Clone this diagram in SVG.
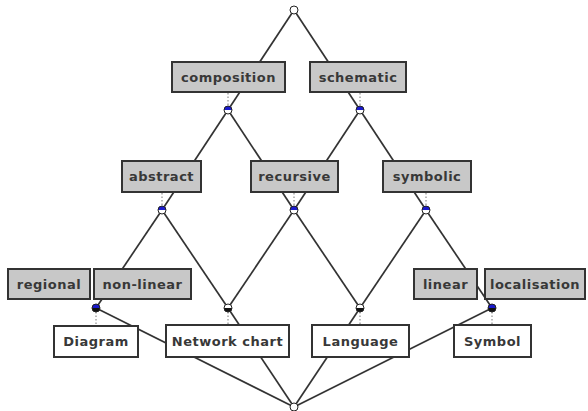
<svg xmlns="http://www.w3.org/2000/svg" width="588" height="411" viewBox="0 0 588 411">
<style>
.bg{fill:#ffffff}
.edge{stroke:#333;stroke-width:1.7;fill:none}
.tick{stroke:#777;stroke-width:1;stroke-dasharray:1.5 2;fill:none}
.att rect{fill:#c8c8c8;stroke:#333;stroke-width:2}
.obj rect{fill:#ffffff;stroke:#333;stroke-width:2}
text{font-family:"DejaVu Sans","Liberation Sans",sans-serif;font-weight:bold;font-size:13px;letter-spacing:0.5px;fill:#383838;text-anchor:middle}
.ring{fill:none;stroke:#222;stroke-width:1}
</style>
<defs>
<g id="plain"><circle r="4" fill="#fff"/><circle r="4" class="ring"/></g>
<g id="attrNode"><circle r="4" fill="#fff"/><path d="M-4,0 A4,4 0 0 1 4,0 Z" fill="#1a1acc"/><circle r="4" class="ring"/></g>
<g id="objNode"><circle r="4" fill="#fff"/><path d="M-4,0 A4,4 0 0 0 4,0 Z" fill="#111"/><circle r="4" class="ring"/></g>
<g id="bothNode"><path d="M-4,0 A4,4 0 0 1 4,0 Z" fill="#1a1acc"/><path d="M-4,0 A4,4 0 0 0 4,0 Z" fill="#111"/><circle r="4" class="ring"/></g>
</defs>
<rect class="bg" x="0" y="0" width="588" height="411"/>
<g id="connectors">
<line class="edge" x1="294" y1="10" x2="228" y2="110"/>
<line class="edge" x1="294" y1="10" x2="360" y2="110"/>
<line class="edge" x1="228" y1="110" x2="162" y2="210"/>
<line class="edge" x1="228" y1="110" x2="294" y2="210"/>
<line class="edge" x1="360" y1="110" x2="294" y2="210"/>
<line class="edge" x1="360" y1="110" x2="426" y2="210"/>
<line class="edge" x1="162" y1="210" x2="96" y2="308"/>
<line class="edge" x1="162" y1="210" x2="228" y2="308"/>
<line class="edge" x1="294" y1="210" x2="228" y2="308"/>
<line class="edge" x1="294" y1="210" x2="360" y2="308"/>
<line class="edge" x1="426" y1="210" x2="360" y2="308"/>
<line class="edge" x1="426" y1="210" x2="492" y2="308"/>
<line class="edge" x1="96" y1="308" x2="294" y2="407"/>
<line class="edge" x1="228" y1="308" x2="294" y2="407"/>
<line class="edge" x1="360" y1="308" x2="294" y2="407"/>
<line class="edge" x1="492" y1="308" x2="294" y2="407"/>
<line class="tick" x1="228" y1="93" x2="228" y2="106"/>
<line class="tick" x1="360" y1="93" x2="360" y2="106"/>
<line class="tick" x1="162" y1="193" x2="162" y2="206"/>
<line class="tick" x1="294" y1="193" x2="294" y2="206"/>
<line class="tick" x1="426" y1="193" x2="426" y2="206"/>
<line class="tick" x1="96" y1="312" x2="96" y2="325"/>
<line class="tick" x1="228" y1="312" x2="228" y2="324"/>
<line class="tick" x1="360" y1="312" x2="360" y2="324"/>
<line class="tick" x1="492" y1="312" x2="492" y2="324"/>
</g>
<g id="top"><use href="#plain" x="294" y="10"/></g>
<g id="composition" class="att"><rect x="172" y="62" width="113" height="30"/><text x="228.5" y="81.5">composition</text><use href="#attrNode" x="228" y="110"/></g>
<g id="schematic" class="att"><rect x="310" y="62" width="96" height="30"/><text x="358" y="81.5">schematic</text><use href="#attrNode" x="360" y="110"/></g>
<g id="abstract" class="att"><rect x="122" y="161" width="79" height="31"/><text x="161.5" y="181">abstract</text><use href="#attrNode" x="162" y="210"/></g>
<g id="recursive" class="att"><rect x="251" y="161" width="87" height="31"/><text x="294.5" y="181">recursive</text><use href="#attrNode" x="294" y="210"/></g>
<g id="symbolic" class="att"><rect x="383" y="161" width="88" height="31"/><text x="427" y="181">symbolic</text><use href="#attrNode" x="426" y="210"/></g>
<g id="diagram-node">
<g class="att"><rect x="8" y="269" width="82" height="30"/><text x="49" y="288.5">regional</text><rect x="94" y="269" width="97" height="30"/><text x="142.5" y="288.5">non-linear</text></g>
<g class="obj"><rect x="54" y="326" width="84" height="31"/><text x="96" y="346">Diagram</text></g>
<use href="#bothNode" x="96" y="308"/></g>
<g id="network-chart" class="obj"><rect x="166" y="325" width="123" height="32"/><text x="227.5" y="345.5">Network chart</text><use href="#objNode" x="228" y="308"/></g>
<g id="language" class="obj"><rect x="312" y="325" width="97" height="32"/><text x="360.5" y="345.5">Language</text><use href="#objNode" x="360" y="308"/></g>
<g id="symbol-node">
<g class="att"><rect x="414" y="269" width="63" height="30"/><text x="445.5" y="288.5">linear</text><rect x="485" y="269" width="100" height="30"/><text x="535" y="288.5">localisation</text></g>
<g class="obj"><rect x="454" y="325" width="77" height="32"/><text x="492.5" y="345.5">Symbol</text></g>
<use href="#bothNode" x="492" y="308"/></g>
<g id="bottom"><use href="#plain" x="294" y="407"/></g>
</svg>
